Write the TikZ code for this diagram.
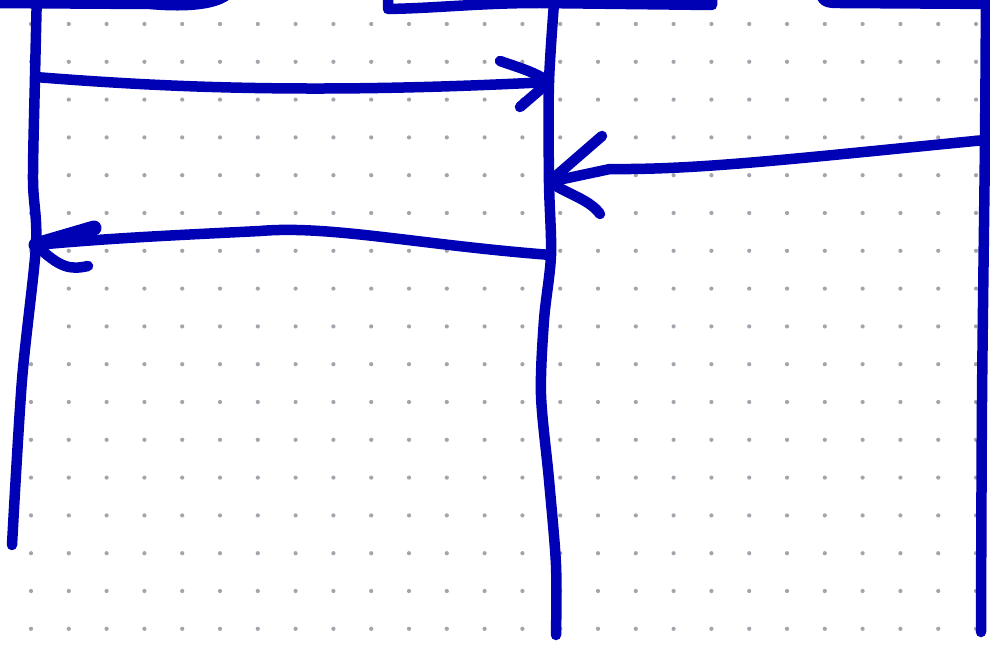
\documentclass[tikz,border=0pt]{standalone}
\usepackage{tikz}
\usetikzlibrary{calc}
\definecolor{tinta}{HTML}{0000B4}
\definecolor{punto}{HTML}{A4A4AE}

\begin{document}
\begin{tikzpicture}[x=1pt,y=-1pt,line cap=round,line join=round]
        \useasboundingbox (0,0) rectangle (990,647);
        \clip (0,0) rectangle (990,647);
        \fill[white] (0,0) rectangle (990,647);
        % dot grid
        \foreach \i in {0,...,25}{
          \foreach \j in {0,...,16}{\fill[punto] (31+37.8*\i,24+37.8*\j) circle (2.1);}}
        \begin{scope}[tinta,line width=10.5]
          % participant boxes, cut off at the top
          \draw (-10,3) -- (150,4) .. controls (185,7) and (215,5) .. (228,-6);
          \draw (388,-10) -- (388,9) .. controls (440,8) and (480,3) .. (540,3) -- (712,5) -- (712,-10);
          \draw (820,-10) .. controls (822,2) and (826,3) .. (840,3) -- (1000,4);
          % lifelines
          \coordinate (A0) at (37,-10);
          \coordinate (A1) at (35,77);
          \coordinate (A2) at (36,245);
          \coordinate (A3) at (12,545);
          \coordinate (B0) at (555,-10);
          \coordinate (B1) at (549,82);
          \coordinate (B2) at (549,182);
          \coordinate (B3) at (551,255);
          \coordinate (B4) at (556,635);
          \coordinate (C0) at (986,-10);
          \coordinate (C1) at (985,140);
          \coordinate (C2) at (981,632);
          \draw plot[smooth,tension=0.5] coordinates {(A0) (A1) (33,180) (A2) (22,380) (A3)};
          \draw plot[smooth,tension=0.5] coordinates {(B0) (B1) (B2) (B3) (544,320) (541,395) (549,480) (556,565) (B4)};
          \draw plot[smooth,tension=0.5] coordinates {(C0) (C1) (982,400) (C2)};
          % message 1
          \draw (A1) .. controls (150,86) and (300,95) .. (B1);
          \draw (500,61) .. controls (520,68) and (535,72) .. (B1) -- (520,107);
          % message 2
          \draw (C1) .. controls (800,158) and (700,170) .. (610,169) -- (B2);
          \draw (602,136) -- (B2) .. controls (570,195) and (590,200) .. (600,214);
          % message 3
          \draw (B3) .. controls (420,245) and (330,225) .. (260,231) .. controls (180,235) and (110,238) .. (A2);
          \draw[line width=15] (A2) -- (94,228);
          \draw (A2) .. controls (60,268) and (70,270) .. (88,266);
        \end{scope}
      \end{tikzpicture}
\end{document}
